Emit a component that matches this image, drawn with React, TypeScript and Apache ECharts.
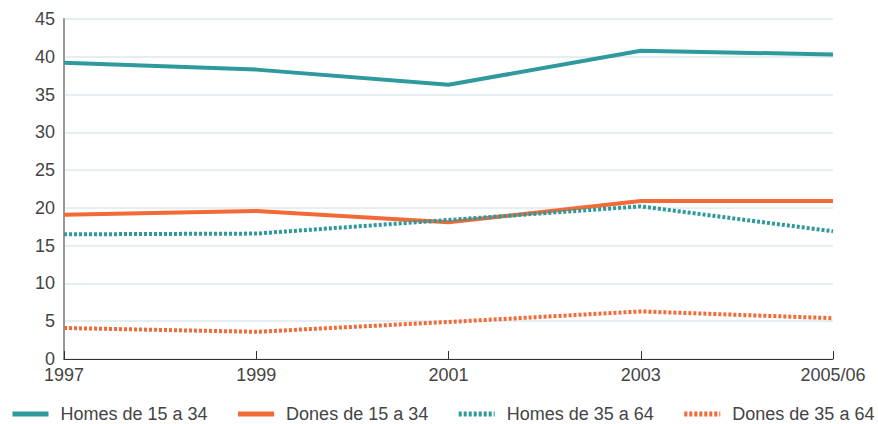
import React, { useEffect, useRef } from "react";
import * as echarts from "echarts";

const categories = ["1997", "1999", "2001", "2003", "2005/06"];
const homes1534 = [39.2, 38.3, 36.3, 40.8, 40.3];
const dones1534 = [19.1, 19.6, 18.1, 20.9, 20.9];
const homes3564 = [16.5, 16.6, 18.4, 20.2, 16.9];
const dones3564 = [4.1, 3.6, 4.9, 6.3, 5.4];

const TEAL = "#2e9a9e";
const ORANGE = "#f26a36";
const FONT = "'Liberation Sans', Arial, sans-serif";

export default function App() {
  const ref = useRef<HTMLDivElement>(null);
  useEffect(() => {
    if (!ref.current) return;
    const chart = echarts.init(ref.current, undefined, { renderer: "svg" });
    const mk = (name: string, data: number[], color: string, dotted: boolean) => ({
      name,
      type: "line",
      data,
      symbol: "none",
      showSymbol: false,
      lineStyle: { color, width: 4, type: dotted ? [3, 2] : "solid" },
      itemStyle: { color },
    });
    chart.setOption({
      animation: false,
      grid: { left: 64, right: 45, top: 19, bottom: 65 },
      legend: {
        top: 405,
        left: 10,
        width: 868,
        padding: 0,
        itemWidth: 36,
        itemHeight: 10,
        itemGap: 28,
        itemStyle: { opacity: 0 },
        lineStyle: { width: 5 },
        textStyle: { color: "#444", fontSize: 18, fontFamily: FONT, padding: [0, 0, 0, 7] },
        data: ["Homes de 15 a 34", "Dones de 15 a 34", "Homes de 35 a 64", "Dones de 35 a 64"],
      },
      xAxis: {
        type: "category",
        data: categories,
        boundaryGap: false,
        axisLine: { lineStyle: { color: "#333", width: 1 } },
        axisTick: { inside: true, length: 8, lineStyle: { color: "#333" } },
        axisLabel: { color: "#444", fontSize: 18, fontFamily: FONT, margin: 7 },
        splitLine: { show: false },
      },
      yAxis: {
        type: "value",
        min: 0,
        max: 45,
        interval: 5,
        axisLine: { show: true, lineStyle: { color: "#999", width: 2 } },
        axisTick: { show: false },
        axisLabel: { color: "#444", fontSize: 18, fontFamily: FONT, margin: 9 },
        splitLine: { lineStyle: { color: "#dce8eb", width: 1.5 } },
      },
      series: [
        mk("Homes de 15 a 34", homes1534, TEAL, false),
        mk("Dones de 15 a 34", dones1534, ORANGE, false),
        mk("Homes de 35 a 64", homes3564, TEAL, true),
        mk("Dones de 35 a 64", dones3564, ORANGE, true),
      ],
    });
    return () => chart.dispose();
  }, []);
  return <div ref={ref} style={{ width: 878, height: 424, position: "absolute", left: 0, top: 0 }} />;
}
